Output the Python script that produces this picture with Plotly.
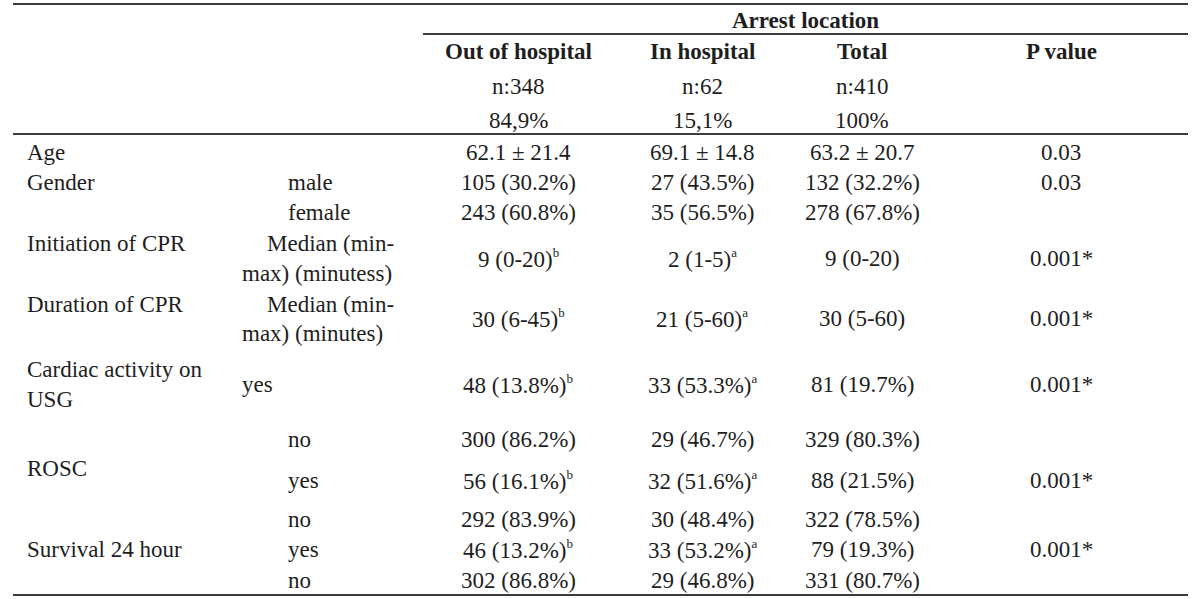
import plotly.graph_objects as go

# ---------------- data ----------------
group_title = "Arrest location"
col_headers = ["Out of hospital", "In hospital", "Total", "P value"]
n_labels = ["n:348", "n:62", "n:410", ""]
pct_labels = ["84,9%", "15,1%", "100%", ""]

group_labels = ["Age", "Gender", "Initiation of CPR", "Duration of CPR",
                "Cardiac activity on", "USG", "ROSC", "Survival 24 hour"]
sub_labels = ["male", "female", "Median (min-", "max) (minutess)",
              "Median (min-", "max) (minutes)", "yes", "no", "yes", "no", "yes", "no"]

SA = "<sup><span style='font-size:13px'>a</span></sup>"
SB = "<sup><span style='font-size:13px'>b</span></sup>"

out_vals = ["62.1 ± 21.4", "105 (30.2%)", "243 (60.8%)", "9 (0-20)" + SB,
            "30 (6-45)" + SB, "48 (13.8%)" + SB, "300 (86.2%)",
            "56 (16.1%)" + SB, "292 (83.9%)", "46 (13.2%)" + SB, "302 (86.8%)"]
in_vals = ["69.1 ± 14.8", "27 (43.5%)", "35 (56.5%)", "2 (1-5)" + SA,
           "21 (5-60)" + SA, "33 (53.3%)" + SA, "29 (46.7%)",
           "32 (51.6%)" + SA, "30 (48.4%)", "33 (53.2%)" + SA, "29 (46.8%)"]
total_vals = ["63.2 ± 20.7", "132 (32.2%)", "278 (67.8%)", "9 (0-20)",
              "30 (5-60)", "81 (19.7%)", "329 (80.3%)",
              "88 (21.5%)", "322 (78.5%)", "79 (19.3%)", "331 (80.7%)"]
p_vals = ["0.03", "0.03", "", "0.001*", "0.001*", "0.001*", "",
          "0.001*", "", "0.001*", ""]

# ---------------- layout (positions in pixel space) ----------------
W, H = 1200, 599
col_x = [518, 702, 862, 1061]
value_y = [152, 182, 212, 258, 318, 384, 439, 480, 519, 549, 580]
group_y = [152, 182, 243, 304, 369, 399, 468, 549]
group_x = 25
sub_pos = [(286, 182, "left"), (286, 212, "left"), (396, 243, "right"), (240, 273, "left"),
           (396, 304, "right"), (240, 333, "left"), (240, 384, "left"), (286, 439, "left"),
           (286, 480, "left"), (286, 519, "left"), (286, 549, "left"), (286, 580, "left")]

FONT = "Liberation Serif, Times New Roman, serif"
FS = 23
COLOR = "#1e1e1e"
LINE = "#3c3c3c"

fig = go.Figure()
ann = []


def add(text, x, y, anchor="center", bold=False):
    ann.append(dict(
        text=f"<b>{text}</b>" if bold else text,
        x=x, y=y, xref="x", yref="y",
        xanchor=anchor, yanchor="middle", showarrow=False,
        font=dict(family=FONT, size=FS, color=COLOR),
    ))


add(group_title, 805, 20, bold=True)
for x, t in zip(col_x, col_headers):
    add(t, x, 51, bold=True)
for x, t in zip(col_x, n_labels):
    if t:
        add(t, x, 86)
for x, t in zip(col_x, pct_labels):
    if t:
        add(t, x, 120)

for t, y in zip(group_labels, group_y):
    add(t, group_x, y, anchor="left")
for t, (x, y, a) in zip(sub_labels, sub_pos):
    add(t, x, y, anchor=a)

for col, x in zip([out_vals, in_vals, total_vals, p_vals], col_x):
    for t, y in zip(col, value_y):
        if t:
            add(t, x, y)

shapes = []
for (x0, x1, y) in [(13, 1188, 4), (423, 1188, 34), (13, 1188, 134), (13, 1188, 595)]:
    shapes.append(dict(type="line", xref="x", yref="y", x0=x0, x1=x1, y0=y, y1=y,
                       line=dict(color=LINE, width=2)))

fig.update_layout(
    width=W, height=H,
    margin=dict(l=0, r=0, t=0, b=0),
    paper_bgcolor="white", plot_bgcolor="white",
    xaxis=dict(range=[0, W], visible=False, fixedrange=True),
    yaxis=dict(range=[H, 0], visible=False, fixedrange=True),
    annotations=ann, shapes=shapes, showlegend=False,
)

fig.write_html(
    "out.html",
    config={"displayModeBar": False},
    post_script="document.body.style.margin='0px';document.body.style.overflow='hidden';",
)
